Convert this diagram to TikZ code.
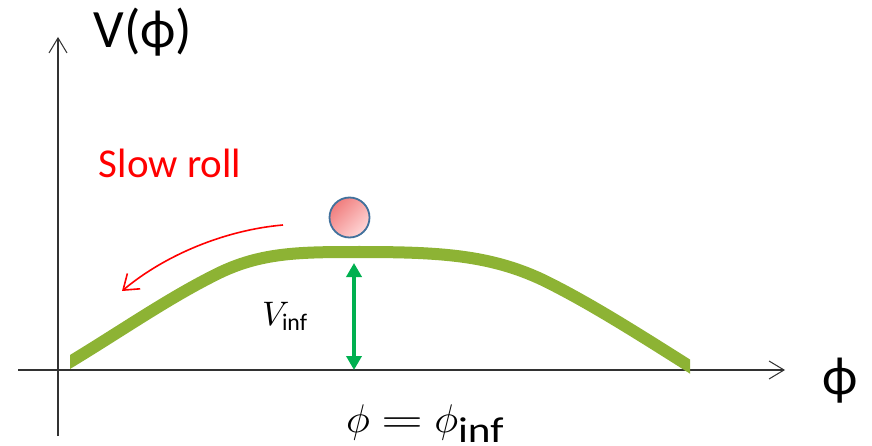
\documentclass[tikz,border=0pt]{standalone}
\usepackage{amsmath}
\usepackage{fontspec}
\newfontfamily\carlito{Carlito}
\usetikzlibrary{arrows.meta}
\definecolor{curvegreen}{RGB}{141,179,52}
\definecolor{arrgreen}{RGB}{0,176,80}
\definecolor{ballborder}{RGB}{65,113,156}
\definecolor{ballA}{RGB}{240,125,125}
\definecolor{ballB}{RGB}{255,215,215}
\definecolor{axisgray}{RGB}{50,50,50}
\definecolor{rollred}{RGB}{255,0,0}
\begin{document}
\begin{tikzpicture}[x=1pt,y=-1pt,
  axis/.style={line width=1.2pt, draw=axisgray, -{Straight Barb[length=15pt,width=18pt,line width=1pt]}},
  curve/.style={line width=12pt, draw=curvegreen, line cap=butt},
  rollarrow/.style={line width=1.6pt, draw=rollred, -{Straight Barb[length=14pt,width=20pt,line width=1.6pt]}},
  vinfarrow/.style={line width=4pt, draw=arrgreen, {Triangle[length=14pt,width=15pt]}-{Triangle[length=14pt,width=15pt]}},
  ball/.style={circle, inner sep=0pt, minimum size=40pt, draw=ballborder, line width=1.8pt, top color=ballA, bottom color=ballB, shading angle=45},
  big/.style={font=\carlito\fontsize{54}{64}\selectfont, inner sep=0pt},
  rolltext/.style={font=\carlito\fontsize{41}{49}\selectfont, text=rollred, inner sep=0pt},
  mathlabel/.style={inner sep=0pt}
]
\useasboundingbox (0,0) rectangle (872,446);
% axes
\coordinate (yb) at (58,436);
\coordinate (yt) at (58,37);
\coordinate (xl) at (18,370);
\coordinate (xr) at (785,370);
\draw[axis] (yb) -- (yt);
\draw[axis] (xl) -- (xr);
% potential curve
\coordinate (cl) at (60,368);
\coordinate (c1) at (215,275);
\coordinate (ctop) at (360,252);
\coordinate (c2) at (543,280);
\coordinate (cr) at (697,371);
\begin{scope}
\clip (70,0) rectangle (690,446);
\draw[curve] (cl) .. controls (117,334) and (165,300) .. (c1)
  .. controls (260,252) and (300,252) .. (ctop)
  .. controls (440,252) and (490,255) .. (c2)
  .. controls (590,303) and (640,335) .. (cr);
\end{scope}
% ball
\node[ball] (ballnode) at (349.5,217.5) {};
% slow roll arrow
\coordinate (rs) at (283,225);
\coordinate (re) at (122,291);
\draw[rollarrow] (rs) .. controls (225,230) and (165,255) .. (re);
\node[rolltext, anchor=base] (slowroll) at (170,178) {Slow roll};
% V_inf arrow
\coordinate (vt) at (354,263);
\coordinate (vb) at (354,370);
\draw[vinfarrow] (vt) -- (vb);
\node[mathlabel, anchor=base west] (vinf) at (262,325) {\scalebox{3.4}{$V_{\text{\carlito inf}}$}};
% labels
\node[big, anchor=base] (vphi) at (143,48) {V(ϕ)};
\node[big] (phiaxis) at (840,381) {ϕ};
\node[mathlabel, anchor=base west] (phieq) at (346,432) {\scalebox{4}{$\phi \mathrel{\scalebox{1.35}[1]{$=$}} \phi_{\scalebox{1.2}[1]{\carlito\fontsize{9}{11}\selectfont inf}}$}};
\end{tikzpicture}
\end{document}
